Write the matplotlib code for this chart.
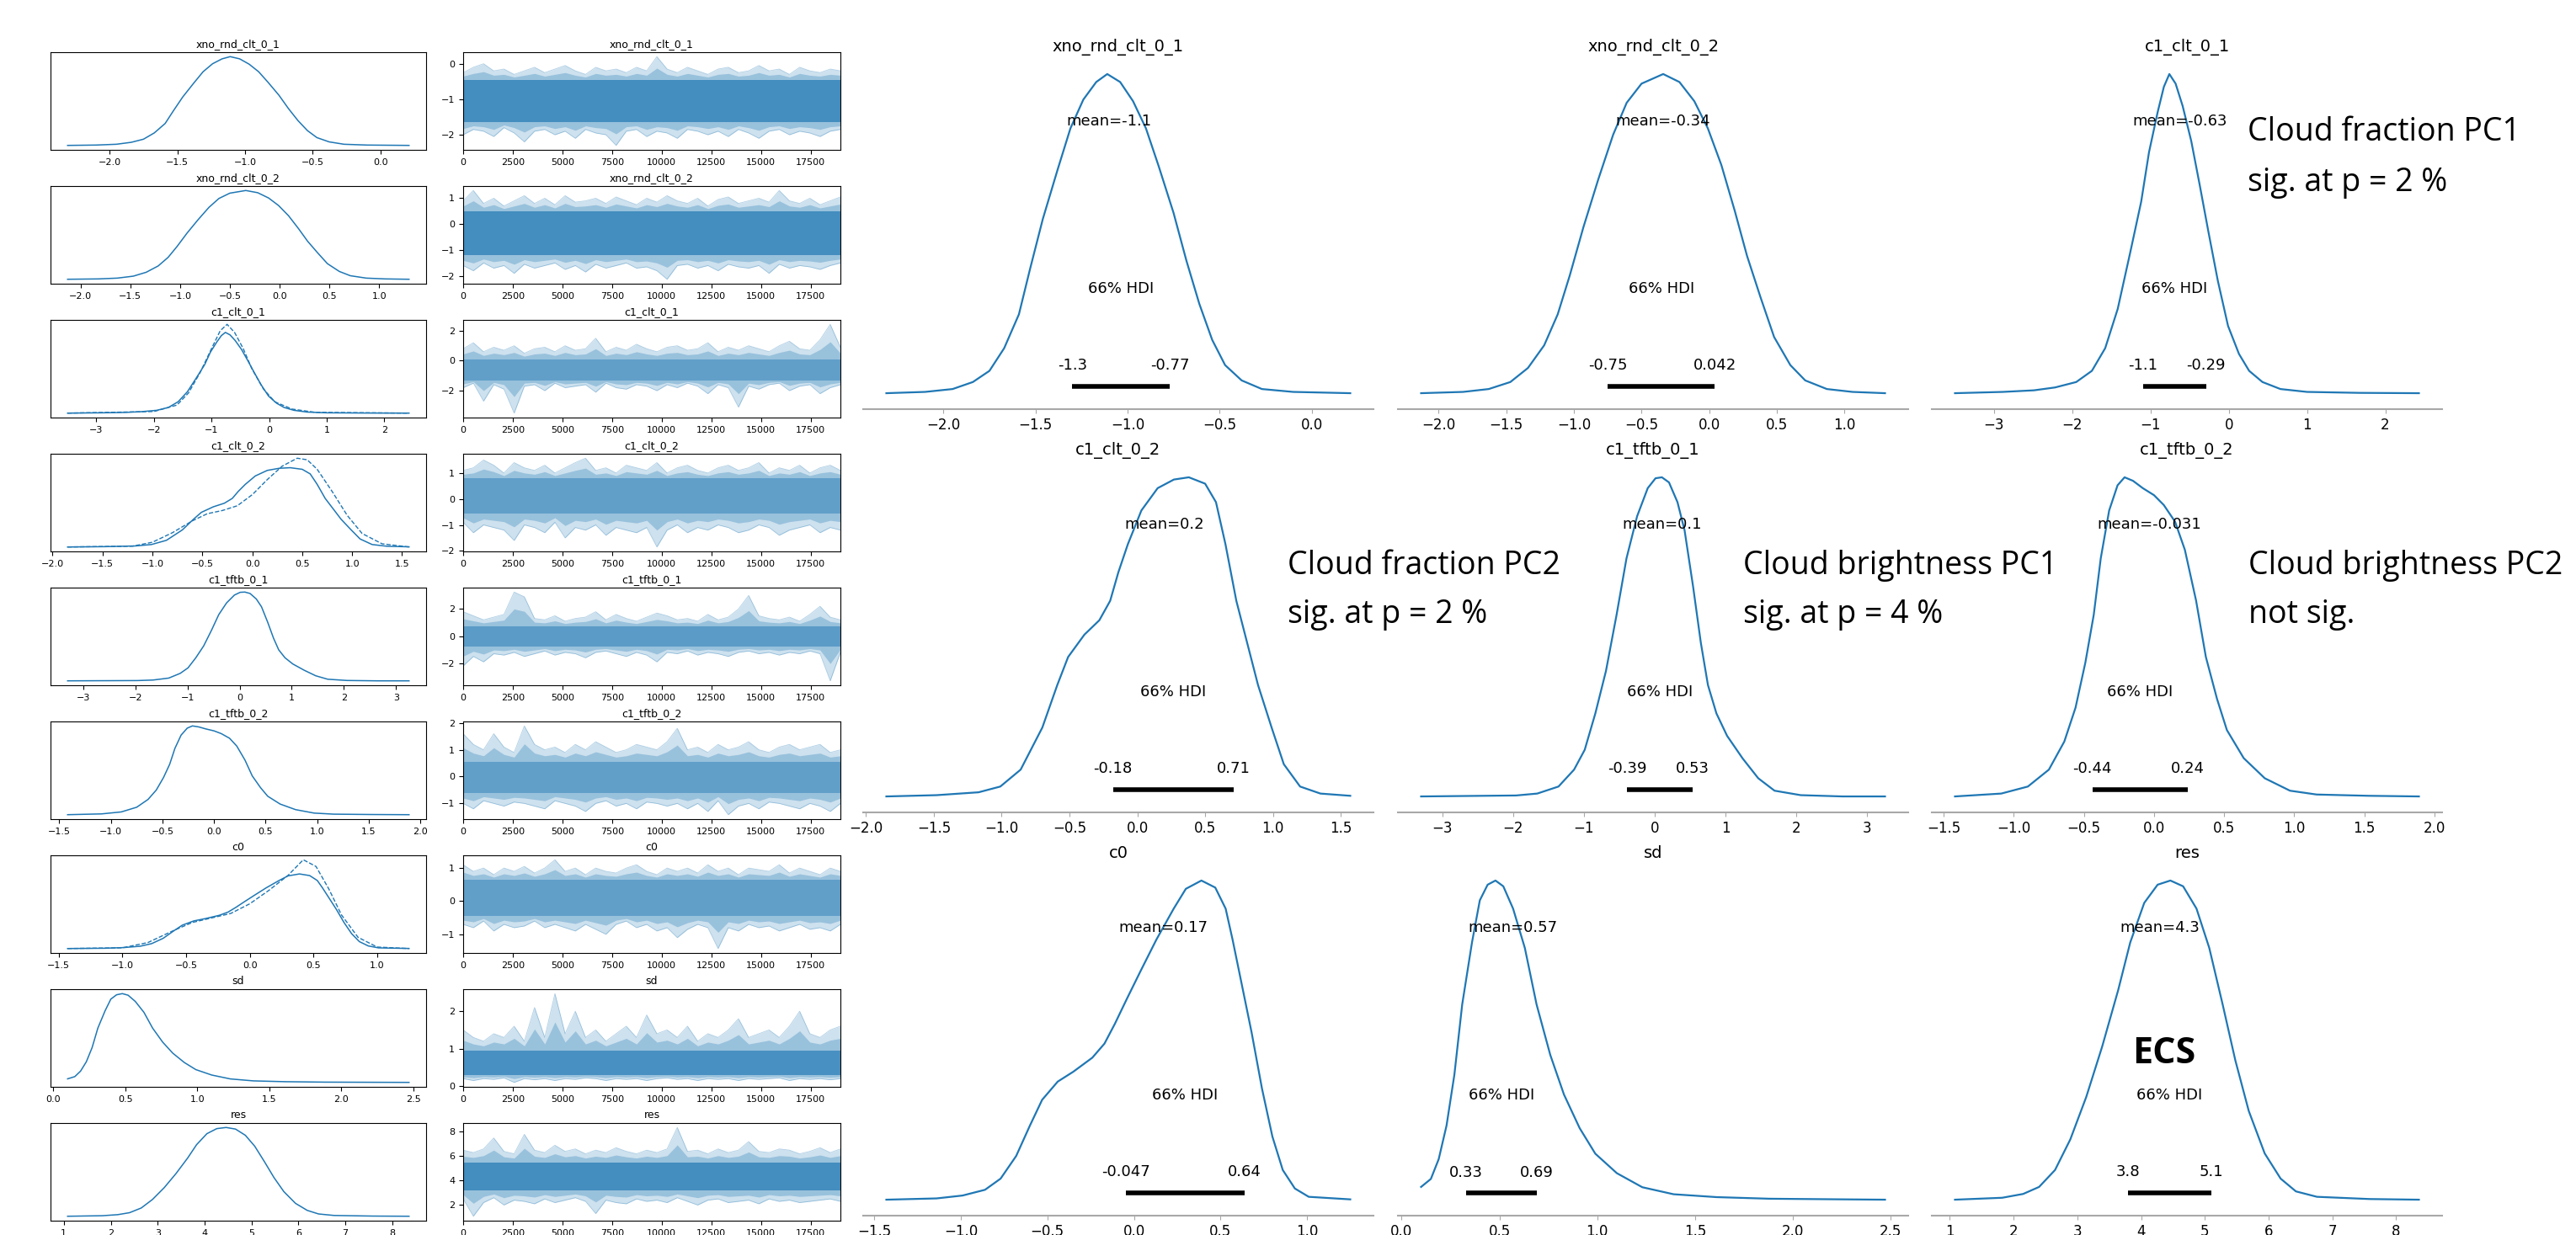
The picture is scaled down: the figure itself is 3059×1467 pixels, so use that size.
import matplotlib
matplotlib.use("Agg")
import matplotlib.pyplot as plt
from matplotlib.ticker import MultipleLocator
import numpy as np

W, H = 3059, 1467
BLUE = "#1f77b4"

VARS = ["xno_rnd_clt_0_1", "xno_rnd_clt_0_2", "c1_clt_0_1",
        "c1_clt_0_2", "c1_tftb_0_1", "c1_tftb_0_2", "c0", "sd", "res"]
MEANS = [-1.1, -0.34, -0.63, 0.2, 0.1, -0.031, 0.17, 0.57, 4.3]
HDI_LO = [-1.3, -0.75, -1.1, -0.18, -0.39, -0.44, -0.047, 0.33, 3.8]
HDI_HI = [-0.77, 0.042, -0.29, 0.71, 0.53, 0.24, 0.64, 0.69, 5.1]
TICK_STEP = [0.5, 0.5, 1, 0.5, 1, 0.5, 0.5, 0.5, 1]

# posterior densities: x, height relative to the peak
XNO1_X = [-2.31, -2.10, -1.95, -1.84, -1.75, -1.67, -1.59, -1.53, -1.46, -1.38, -1.31, -1.24, -1.17, -1.11,
          -1.04, -0.97, -0.90, -0.83, -0.75, -0.68, -0.61, -0.54, -0.47, -0.38, -0.27, -0.10, 0.21]
XNO1_H = [0, 0.004, 0.013, 0.035, 0.07, 0.141, 0.247, 0.388, 0.546, 0.70, 0.83, 0.92, 0.975, 1,
          0.975, 0.915, 0.83, 0.71, 0.565, 0.415, 0.28, 0.167, 0.088, 0.04, 0.013, 0.004, 0]
XNO2_X = [-2.13, -1.82, -1.63, -1.47, -1.34, -1.22, -1.12, -1.03, -0.93, -0.82, -0.71, -0.61, -0.50, -0.34,
          -0.22, -0.11, -0.01, 0.09, 0.19, 0.28, 0.38, 0.48, 0.60, 0.71, 0.87, 1.06, 1.30]
XNO2_H = [0, 0.004, 0.013, 0.035, 0.079, 0.15, 0.247, 0.37, 0.52, 0.67, 0.81, 0.91, 0.97, 1,
          0.975, 0.915, 0.83, 0.715, 0.57, 0.43, 0.3, 0.176, 0.088, 0.04, 0.013, 0.004, 0]
C1CLT1_X = [-3.50, -2.89, -2.49, -2.22, -1.95, -1.75, -1.58, -1.42, -1.26, -1.12, -1.02, -0.91, -0.83, -0.76,
            -0.68, -0.59, -0.48, -0.37, -0.26, -0.14, -0.01, 0.13, 0.26, 0.43, 0.66, 1.00, 1.67, 2.43]
C1CLT1_H = [0, 0.004, 0.009, 0.018, 0.035, 0.07, 0.141, 0.264, 0.441, 0.6, 0.755, 0.88, 0.96, 1,
            0.97, 0.9, 0.79, 0.65, 0.505, 0.352, 0.211, 0.123, 0.07, 0.035, 0.013, 0.004, 0.001, 0]
C1CLT2_X = [-1.85, -1.48, -1.17, -1.01, -0.86, -0.70, -0.59, -0.51, -0.39, -0.28, -0.20, -0.14, -0.07, 0.03,
            0.15, 0.27, 0.38, 0.50, 0.58, 0.65, 0.73, 0.81, 0.89, 0.99, 1.08, 1.20, 1.35, 1.57]
C1CLT2_H = [0, 0.004, 0.013, 0.031, 0.084, 0.216, 0.349, 0.437, 0.507, 0.552, 0.613, 0.702, 0.79, 0.896,
            0.966, 0.993, 1, 0.98, 0.922, 0.79, 0.613, 0.481, 0.349, 0.216, 0.101, 0.031, 0.009, 0.002]
C1TFTB1_X = [-3.30, -1.96, -1.66, -1.36, -1.14, -0.99, -0.84, -0.69, -0.54, -0.40, -0.25, -0.10, 0.01, 0.10,
             0.20, 0.32, 0.42, 0.54, 0.65, 0.75, 0.87, 1.02, 1.24, 1.46, 1.69, 2.06, 2.65, 3.25]
C1TFTB1_H = [0, 0.003, 0.009, 0.031, 0.084, 0.146, 0.26, 0.393, 0.569, 0.746, 0.878, 0.966, 0.997, 1,
             0.984, 0.922, 0.834, 0.658, 0.481, 0.349, 0.26, 0.19, 0.119, 0.057, 0.018, 0.004, 0, 0]
C1TFTB2_X = [-1.42, -1.09, -0.90, -0.75, -0.64, -0.56, -0.49, -0.43, -0.38, -0.32, -0.26, -0.21, -0.15, -0.08,
             0.00, 0.07, 0.15, 0.22, 0.30, 0.37, 0.45, 0.52, 0.64, 0.79, 0.97, 1.16, 1.53, 1.89]
C1TFTB2_H = [0, 0.009, 0.031, 0.084, 0.172, 0.278, 0.419, 0.569, 0.746, 0.896, 0.975, 1, 0.989, 0.966,
             0.944, 0.913, 0.861, 0.773, 0.614, 0.437, 0.305, 0.208, 0.12, 0.057, 0.018, 0.006, 0.002, 0]
C0_X = [-1.43, -1.14, -0.99, -0.86, -0.77, -0.68, -0.60, -0.53, -0.44, -0.35, -0.24, -0.17, -0.11, -0.04, 0.04,
        0.13, 0.23, 0.30, 0.39, 0.47, 0.53, 0.57, 0.62, 0.68, 0.74, 0.80, 0.86, 0.93, 1.01, 1.25]
C0_H = [0, 0.004, 0.013, 0.031, 0.066, 0.137, 0.233, 0.313, 0.37, 0.401, 0.445, 0.489, 0.551, 0.63, 0.718,
        0.815, 0.912, 0.974, 1, 0.978, 0.912, 0.815, 0.683, 0.524, 0.348, 0.198, 0.093, 0.035, 0.009, 0.001]
SD_X = [0.10, 0.15, 0.19, 0.23, 0.27, 0.31, 0.36, 0.40, 0.44, 0.48, 0.52, 0.57, 0.63, 0.69, 0.76, 0.83,
        0.91, 0.99, 1.10, 1.23, 1.39, 1.61, 1.88, 2.26, 2.47]
SD_H = [0.041, 0.066, 0.128, 0.233, 0.392, 0.612, 0.806, 0.938, 0.987, 1, 0.982, 0.912, 0.789, 0.612, 0.454,
        0.33, 0.225, 0.145, 0.084, 0.04, 0.018, 0.009, 0.004, 0.002, 0.001]
RES_X = [1.08, 1.82, 2.15, 2.40, 2.65, 2.89, 3.14, 3.39, 3.64, 3.83, 4.05, 4.26, 4.46, 4.66, 4.87, 5.07,
         5.28, 5.48, 5.69, 5.94, 6.19, 6.43, 6.76, 7.59, 8.36]
RES_H = [0, 0.006, 0.018, 0.04, 0.093, 0.189, 0.322, 0.48, 0.656, 0.806, 0.93, 0.987, 1, 0.982, 0.912,
         0.789, 0.612, 0.436, 0.278, 0.145, 0.066, 0.026, 0.009, 0.002, 0]

# the one chain that visibly departs from the others (dashed in the small kde panels)
C1CLT1_ALT_X = [-3.5, -2.0, -1.6, -1.4, -1.2, -1.0, -0.85, -0.73, -0.6, -0.45, -0.3, -0.1, 0.1, 0.4, 0.8, 2.43]
C1CLT1_ALT_H = [0, 0.02, 0.1, 0.25, 0.5, 0.8, 1.02, 1.1, 1.0, 0.8, 0.55, 0.3, 0.14, 0.05, 0.01, 0]
C1CLT2_ALT_X = [-1.85, -1.2, -1.0, -0.8, -0.6, -0.45, -0.3, -0.15, 0.0, 0.15, 0.3, 0.45, 0.55, 0.65, 0.8,
                0.95, 1.1, 1.3, 1.57]
C1CLT2_ALT_H = [0, 0.01, 0.06, 0.18, 0.33, 0.42, 0.46, 0.52, 0.66, 0.85, 1.02, 1.12, 1.1, 0.98, 0.7, 0.4,
                0.17, 0.04, 0]
C0_ALT_X = [-1.43, -1.0, -0.8, -0.6, -0.45, -0.3, -0.15, 0.0, 0.15, 0.3, 0.42, 0.52, 0.62, 0.72, 0.85, 1.0, 1.25]
C0_ALT_H = [0, 0.01, 0.08, 0.24, 0.35, 0.41, 0.47, 0.6, 0.78, 0.98, 1.19, 1.1, 0.8, 0.45, 0.15, 0.02, 0]

# trace plots: max / min per block of ~500 draws, plus the dense core band
N_DRAWS = 19000
XNO1_HI = [-0.25, -0.1, 0.0, -0.2, -0.15, -0.3, -0.2, -0.1, -0.25, -0.15, -0.05, -0.2, -0.3, -0.1, -0.2, -0.15,
           -0.25, -0.1, -0.2, 0.2, -0.15, -0.25, -0.1, -0.2, -0.3, -0.15, -0.1, -0.25, -0.2, -0.05, -0.2, -0.15,
           -0.3, -0.1, -0.2, -0.25, -0.15, -0.2]
XNO1_LO = [-2.0, -1.85, -1.9, -2.05, -1.8, -1.95, -2.2, -1.9, -1.85, -2.0, -1.9, -2.1, -1.85, -1.95, -2.0, -2.3,
           -1.9, -1.85, -2.05, -1.9, -1.95, -2.1, -1.85, -1.9, -2.0, -1.9, -2.05, -1.85, -1.95, -2.1, -1.9, -1.85,
           -2.0, -1.9, -1.95, -2.05, -1.9, -1.85]
XNO2_HI = [0.9, 1.3, 0.8, 1.0, 0.7, 0.9, 1.1, 0.8, 1.0, 0.75, 1.1, 0.85, 0.9, 1.0, 0.8, 1.05, 0.9, 0.75, 1.0,
           0.85, 1.1, 0.9, 0.8, 1.0, 0.7, 0.95, 1.05, 0.8, 0.9, 1.0, 0.85, 1.3, 0.9, 0.8, 1.0, 0.75, 0.9, 1.05]
XNO2_LO = [-1.6, -1.8, -1.5, -1.7, -1.6, -1.9, -1.55, -1.7, -1.6, -1.5, -1.75, -1.6, -1.85, -1.55, -1.7, -1.6,
           -1.5, -1.7, -1.65, -1.8, -2.13, -1.6, -1.55, -1.7, -1.6, -1.8, -1.55, -1.65, -1.7, -1.6, -1.9, -1.55,
           -1.7, -1.6, -1.65, -1.75, -1.6, -1.5]
C1CLT1_HI = [0.8, 1.2, 0.6, 0.9, 0.7, 1.0, 0.5, 0.8, 0.9, 0.6, 1.0, 0.7, 0.8, 1.5, 0.6, 0.9, 0.7, 1.1, 0.8, 0.6,
             0.9, 1.0, 0.7, 0.8, 1.2, 0.6, 0.9, 0.7, 1.0, 0.8, 0.6, 1.0, 1.3, 0.8, 0.7, 1.4, 2.43, 0.9]
C1CLT1_LO = [-1.8, -1.5, -2.7, -1.6, -1.9, -3.5, -1.7, -1.6, -2.0, -1.5, -1.8, -1.7, -1.6, -2.1, -1.5, -1.8,
             -1.9, -1.6, -1.7, -2.0, -1.6, -1.8, -1.5, -1.7, -2.2, -1.6, -1.8, -3.1, -1.7, -1.9, -1.6, -1.5,
             -2.0, -1.7, -1.6, -2.2, -1.8, -1.6]
C1CLT2_HI = [1.1, 1.2, 1.5, 1.3, 1.0, 1.4, 1.2, 1.1, 1.3, 1.0, 1.2, 1.4, 1.57, 1.1, 1.2, 1.0, 1.3, 1.2, 1.1, 1.4,
             1.0, 1.2, 1.3, 1.1, 1.0, 1.2, 1.3, 1.1, 1.2, 1.4, 1.0, 1.2, 1.1, 1.3, 1.0, 1.2, 1.3, 1.1]
C1CLT2_LO = [-0.9, -1.3, -1.0, -1.1, -1.2, -1.6, -1.0, -1.1, -1.3, -0.9, -1.5, -1.1, -1.2, -1.0, -1.4, -1.1,
             -1.2, -1.3, -1.1, -1.85, -1.2, -1.0, -1.3, -1.1, -1.2, -1.0, -1.1, -1.3, -1.2, -1.0, -1.1, -1.4,
             -1.2, -1.1, -1.0, -1.3, -1.1, -1.2]
C1TFTB1_HI = [1.8, 1.5, 1.2, 1.4, 1.6, 3.25, 2.9, 1.3, 1.2, 1.5, 1.1, 1.3, 1.4, 1.8, 1.2, 1.6, 1.3, 1.1, 1.4, 1.7,
              1.5, 1.2, 1.3, 1.1, 1.6, 1.2, 1.4, 2.0, 3.0, 1.5, 1.3, 1.2, 1.4, 1.1, 1.6, 2.2, 1.4, 1.2]
C1TFTB1_LO = [-2.2, -1.5, -1.9, -1.3, -1.4, -1.2, -1.5, -1.3, -1.1, -1.4, -1.2, -1.3, -1.6, -1.2, -1.1, -1.3,
              -1.5, -1.2, -1.4, -1.9, -1.2, -1.3, -1.1, -1.4, -1.2, -1.3, -1.5, -1.2, -1.1, -1.3, -1.2, -1.4,
              -1.2, -1.3, -1.1, -1.3, -3.3, -1.2]
C1TFTB2_HI = [1.6, 1.2, 1.0, 1.6, 1.1, 0.9, 1.89, 1.2, 1.0, 1.1, 0.9, 1.2, 1.0, 1.3, 1.1, 0.9, 1.0, 1.2, 1.1, 1.0,
              1.3, 1.8, 1.0, 1.1, 0.9, 1.2, 1.0, 1.1, 1.3, 1.0, 0.9, 1.1, 1.2, 1.0, 1.1, 1.2, 0.9, 1.0]
C1TFTB2_LO = [-1.0, -1.2, -0.9, -1.0, -1.1, -0.95, -1.0, -1.1, -1.2, -0.9, -1.0, -1.1, -1.3, -1.0, -0.9, -1.1,
              -1.0, -1.2, -0.95, -1.0, -1.1, -1.0, -1.2, -1.0, -1.3, -0.9, -1.42, -1.1, -1.0, -1.2, -0.95, -1.0,
              -1.1, -1.2, -1.0, -1.1, -1.3, -1.0]
C0_HI = [1.1, 0.9, 1.0, 0.8, 1.0, 0.9, 1.05, 0.85, 1.0, 1.25, 0.9, 1.0, 0.8, 1.0, 0.9, 0.85, 1.0, 1.1, 0.9, 0.8,
         1.0, 0.9, 1.0, 0.85, 1.1, 0.9, 1.0, 0.8, 1.0, 0.95, 0.9, 1.1, 0.85, 1.0, 0.9, 0.8, 1.0, 0.9]
C0_LO = [-0.7, -0.8, -0.6, -0.9, -0.7, -0.8, -0.75, -0.6, -0.8, -0.7, -0.8, -0.9, -0.7, -0.85, -1.0, -0.7, -0.6,
         -0.8, -0.7, -0.9, -0.8, -1.1, -0.85, -0.7, -0.8, -1.43, -0.8, -0.9, -0.7, -0.8, -0.75, -0.9, -0.8, -0.7,
         -0.85, -0.8, -0.9, -0.7]
SD_HI = [1.5, 1.3, 1.2, 1.4, 1.3, 1.6, 1.2, 2.1, 1.3, 2.47, 1.4, 2.0, 1.3, 1.5, 1.2, 1.4, 1.6, 1.3, 1.9, 1.4, 1.5,
         1.3, 1.6, 1.2, 1.4, 1.3, 1.5, 1.8, 1.3, 1.4, 1.5, 1.3, 1.6, 2.0, 1.4, 1.3, 1.5, 1.6]
SD_LO = [0.2, 0.15, 0.2, 0.18, 0.22, 0.1, 0.2, 0.17, 0.2, 0.15, 0.2, 0.18, 0.22, 0.2, 0.15, 0.2, 0.18, 0.2, 0.15,
         0.2, 0.22, 0.18, 0.2, 0.15, 0.2, 0.18, 0.2, 0.15, 0.2, 0.18, 0.2, 0.22, 0.15, 0.2, 0.18, 0.2, 0.17, 0.2]
RES_HI = [6.5, 6.3, 6.6, 7.5, 6.4, 6.2, 7.8, 6.5, 6.3, 6.9, 6.4, 6.6, 6.2, 6.5, 6.3, 6.7, 6.4, 6.2, 6.5, 6.3,
          6.6, 8.36, 6.4, 6.5, 6.2, 6.6, 6.3, 6.5, 7.2, 6.4, 6.3, 6.6, 6.5, 6.2, 6.4, 6.7, 6.3, 6.6]
RES_LO = [2.5, 1.08, 2.2, 2.6, 2.0, 2.4, 2.3, 2.1, 2.5, 2.2, 2.4, 2.6, 2.3, 1.3, 2.4, 2.2, 2.1, 2.5, 2.3, 2.4,
          2.2, 2.6, 2.3, 2.0, 2.4, 2.5, 2.2, 2.3, 2.4, 2.1, 2.5, 2.3, 2.4, 2.2, 2.3, 2.4, 2.5, 2.3]
CORE_LO = [-1.65, -1.2, -1.3, -0.55, -0.75, -0.6, -0.45, 0.3, 3.2]
CORE_HI = [-0.45, 0.5, 0.1, 0.8, 0.75, 0.55, 0.65, 0.95, 5.5]
CORE_ALPHA = [0.8, 0.8, 0.55, 0.55, 0.6, 0.55, 0.55, 0.75, 0.8]
TRACE_YTICKS = [[-2, -1, 0], [-2, -1, 0, 1], [-2, 0, 2], [-2, -1, 0, 1], [-2, 0, 2],
                [-1, 0, 1, 2], [-1, 0, 1], [0, 1, 2], [2, 4, 6, 8]]

KDE = dict(zip(VARS, [(XNO1_X, XNO1_H), (XNO2_X, XNO2_H), (C1CLT1_X, C1CLT1_H),
                      (C1CLT2_X, C1CLT2_H), (C1TFTB1_X, C1TFTB1_H), (C1TFTB2_X, C1TFTB2_H),
                      (C0_X, C0_H), (SD_X, SD_H), (RES_X, RES_H)]))
KDE_ALT = {"c1_clt_0_1": (C1CLT1_ALT_X, C1CLT1_ALT_H),
           "c1_clt_0_2": (C1CLT2_ALT_X, C1CLT2_ALT_H),
           "c0": (C0_ALT_X, C0_ALT_H)}
TRACE = dict(zip(VARS, [(XNO1_LO, XNO1_HI), (XNO2_LO, XNO2_HI), (C1CLT1_LO, C1CLT1_HI),
                        (C1CLT2_LO, C1CLT2_HI), (C1TFTB1_LO, C1TFTB1_HI), (C1TFTB2_LO, C1TFTB2_HI),
                        (C0_LO, C0_HI), (SD_LO, SD_HI), (RES_LO, RES_HI)]))

NOTES = [("Cloud fraction PC1", 2669, 167), ("sig. at p = 2 %", 2669, 227),
         ("Cloud fraction PC2", 1529, 682), ("sig. at p = 2 %", 1529, 740),
         ("Cloud brightness PC1", 2070, 682), ("sig. at p = 4 %", 2070, 740),
         ("Cloud brightness PC2", 2670, 682), ("not sig.", 2670, 740)]


def box(x0, y0, w, h):
    """pixel box (top-left origin) -> figure fraction rect"""
    return [x0 / W, 1 - (y0 + h) / H, w / W, h / H]


fig = plt.figure(figsize=(W / 100, H / 100), dpi=100)

# ---- left block: per-chain kde + trace ----
for i, var in enumerate(VARS):
    top = 62 + i * 159
    xs, hs = KDE[var]
    ax = fig.add_axes(box(60, top, 446, 116))
    ax.plot(xs, hs, color=BLUE, lw=1.1)
    if var in KDE_ALT:
        ax.plot(*KDE_ALT[var], color=BLUE, lw=1.0, ls="--")
    ax.set_yticks([])
    ax.xaxis.set_major_locator(MultipleLocator(TICK_STEP[i]))
    ax.tick_params(labelsize=8)
    ax.set_title(var, fontsize=9, pad=4)

    lo, hi = np.array(TRACE[var][0]), np.array(TRACE[var][1])
    xb = np.linspace(0, N_DRAWS, len(lo))
    ax = fig.add_axes(box(550, top, 448, 116))
    # light fringe out to the extremes, a denser half-way band, then the core
    ax.fill_between(xb, lo, hi, color=BLUE, alpha=0.22, lw=0)
    ax.plot(xb, hi, color=BLUE, alpha=0.35, lw=0.6)
    ax.plot(xb, lo, color=BLUE, alpha=0.35, lw=0.6)
    ax.fill_between(xb, (lo + CORE_LO[i]) / 2, (hi + CORE_HI[i]) / 2, color=BLUE, alpha=0.3, lw=0)
    ax.fill_between([0, N_DRAWS], [CORE_LO[i]] * 2, [CORE_HI[i]] * 2, color=BLUE,
                    alpha=CORE_ALPHA[i] - 0.1, lw=0)
    ax.set_xlim(0, N_DRAWS)
    ax.set_yticks(TRACE_YTICKS[i])
    ax.xaxis.set_major_locator(MultipleLocator(2500))
    ax.tick_params(labelsize=8)
    ax.set_title(var, fontsize=9, pad=4)

# ---- right block: posterior panels ----
COL_X = [1025, 1660, 2294]
ROW_BOTTOM = [486, 965, 1444]
for i, var in enumerate(VARS):
    r, c = divmod(i, 3)
    xs, hs = KDE[var]
    ax = fig.add_axes(box(COL_X[c], ROW_BOTTOM[r] - 417, 606, 417))
    ax.plot(xs, hs, color=BLUE, lw=1.6)
    ph = ax.get_ylim()[1]
    lo, hi = HDI_LO[i], HDI_HI[i]
    ax.plot([lo, hi], [ph * 0.02] * 2, color="k", lw=4, solid_capstyle="butt")
    ax.text(lo, ph * 0.07, f"{lo:g}", fontsize=13, ha="center")
    ax.text(hi, ph * 0.07, f"{hi:g}", fontsize=13, ha="center")
    ax.text((lo + hi) / 2, ph * 0.3, "66% HDI", fontsize=13, ha="center")
    ax.text(MEANS[i], ph * 0.8, f"mean={MEANS[i]:g}", fontsize=13, ha="center")
    ax.set_title(var, fontsize=14)
    for side in ("left", "right", "top"):
        ax.spines[side].set_visible(False)
    ax.spines["bottom"].set_color("#a8a8a8")
    ax.spines["bottom"].set_linewidth(1.5)
    ax.set_yticks([])
    ax.xaxis.set_major_locator(MultipleLocator(TICK_STEP[i]))
    ax.tick_params(axis="x", labelsize=12, color="#a8a8a8")

for txt, x, y in NOTES:
    fig.text(x / W, 1 - y / H, txt, fontsize=27, family="Open Sans", va="baseline", ha="left")
fig.text(2570 / W, 1 - 1263 / H, "ECS", fontsize=31, family="Open Sans", weight="bold",
         va="baseline", ha="center")

fig.savefig("out.png", dpi=100)
